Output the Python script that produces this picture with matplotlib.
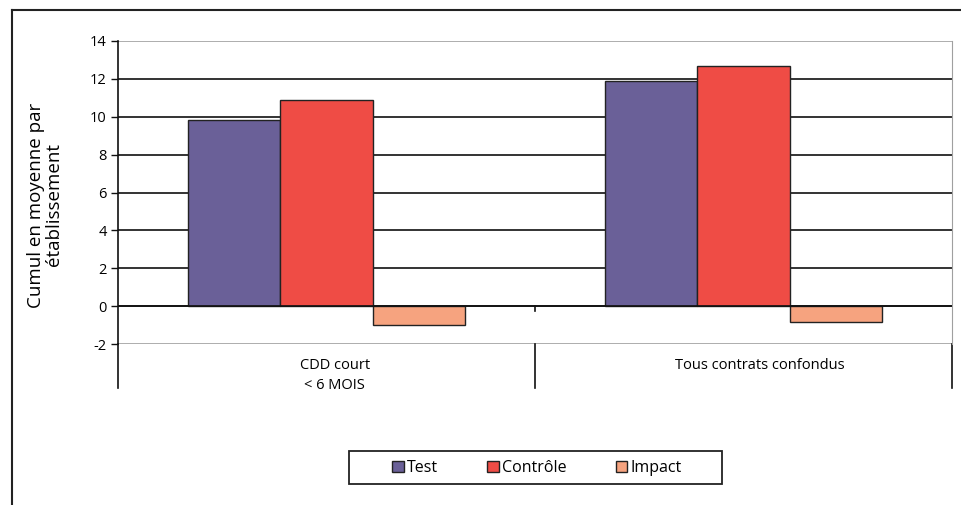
import matplotlib
matplotlib.use("Agg")
import matplotlib.pyplot as plt
import numpy as np
from matplotlib.lines import Line2D
from matplotlib.patches import Rectangle

categories = ["CDD court\n< 6 MOIS", "Tous contrats confondus"]
series_names = ["Test", "Contrôle", "Impact"]
test_vals = [9.83, 11.88]
controle_vals = [10.88, 12.68]
impact_vals = [-1.0, -0.85]
colors = ["#6a6098", "#ef4c45", "#f6a37f"]
yticks = [-2, 0, 2, 4, 6, 8, 10, 12, 14]

plt.rcParams['font.family'] = ['Open Sans', 'DejaVu Sans']

W, H = 962, 505
fig = plt.figure(figsize=(W/100, H/100), dpi=100)
L, R, T, B = 118, 952, 41, 344
ax = fig.add_axes([L/W, 1-B/H, (R-L)/W, (B-T)/H])

x = np.arange(len(categories))
bw = 0.222
vals = [test_vals, controle_vals, impact_vals]
for i, (name, v, c) in enumerate(zip(series_names, vals, colors)):
    ax.bar(x + (i-1)*bw, v, bw, color=c, edgecolor="#222222", linewidth=1.0,
           label=name, zorder=3)

ax.set_xlim(-0.5, 1.5)
ax.set_ylim(-2, 14)
ax.set_yticks(yticks)
ax.set_yticklabels([str(t) for t in yticks], fontsize=10.5)
for t in yticks:
    if t in (-2, 14):
        ax.axhline(t, color="#a0a0a0", linewidth=1.2, zorder=1)
    else:
        ax.axhline(t, color="#111111", linewidth=1.2, zorder=1)
ax.axhline(0, color="#111111", linewidth=1.2, zorder=4)
ax.set_xticks([])
for s in ["top", "bottom"]:
    ax.spines[s].set_visible(False)
ax.spines["right"].set_color("#a0a0a0")
ax.spines["left"].set_color("#111111")
ax.spines["left"].set_linewidth(1.2)
ax.tick_params(axis="y", length=5, width=1, color="#111111", pad=3)

# separators below plot area
ext = (388-B)/(B-T)
for xs in [-0.5, 0.5, 1.5]:
    ax.add_line(Line2D([xs, xs], [0, -ext], transform=ax.get_xaxis_transform(),
                       color="#111111", linewidth=1.2, clip_on=False))
ax.plot([0.5, 0.5], [0, -0.25], color="#111111", linewidth=1.2, zorder=4, clip_on=False)

# category labels
label_offsets = [0.02, 0.04]
for xi, cat, off in zip(x, categories, label_offsets):
    ax.text(xi + off, -0.045, cat, transform=ax.get_xaxis_transform(), ha="center", va="top",
            fontsize=10.5, linespacing=1.45)

fig.text(45/W, 1-205/H, "Cumul en moyenne par\nétablissement", rotation=90,
         ha="center", va="center", fontsize=13.5, linespacing=1.05)

# outer frame
fig.add_artist(Line2D([12/W, 12/W], [0, 1-10/H], transform=fig.transFigure, color="#222222", linewidth=1.5))
fig.add_artist(Line2D([12/W, 1], [1-10/H, 1-10/H], transform=fig.transFigure, color="#222222", linewidth=1.5))

# legend box
fig.add_artist(Rectangle((349/W, 1-484/H), (722-349)/W, (484-451)/H, transform=fig.transFigure,
                         facecolor="white", edgecolor="#222222", linewidth=1.3, zorder=1))
leg = fig.legend(loc="center", bbox_to_anchor=(537/W, 1-468/H), ncol=3, frameon=False,
                 fontsize=11.5, handlelength=0.7, handleheight=0.7, handletextpad=0.2,
                 columnspacing=3.1, borderpad=0.3, borderaxespad=0)
leg.set_zorder(5)

fig.savefig("out.png", dpi=100)
